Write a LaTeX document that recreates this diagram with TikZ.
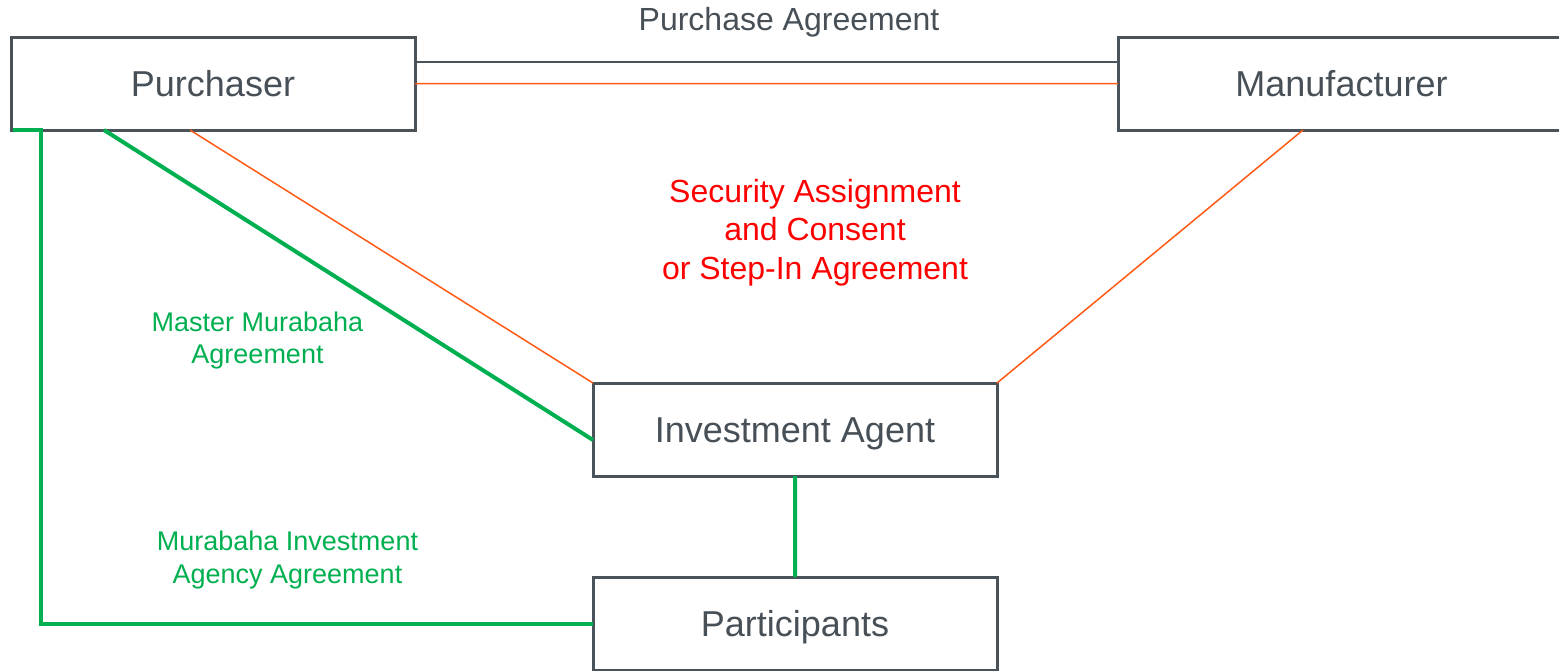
\documentclass[tikz,border=0pt]{standalone}
\usepackage{fontspec}
\setmainfont{Liberation Sans}
\usetikzlibrary{calc}

\definecolor{boxgray}{HTML}{4A525A}
\definecolor{txtgray}{HTML}{474F57}
\definecolor{mgreen}{HTML}{00B050}
\definecolor{lorange}{HTML}{FF5A14}

\tikzset{
	party/.style={draw=boxgray, line width=3pt, fill=white,
		minimum width=404pt, minimum height=93pt, inner sep=0pt, outer sep=0pt,
		text=txtgray, font=\fontsize{36}{40}\selectfont,
		text height=26pt, text depth=0pt},
	greenlink/.style={draw=mgreen, line width=4pt},
	orangelink/.style={draw=lorange, line width=1.5pt},
	graylink/.style={draw=boxgray, line width=2.5pt},
	greenlabel/.style={text=mgreen, align=center, font=\fontsize{27}{32}\selectfont}
}

\begin{document}
\begin{tikzpicture}[x=1pt, y=-1pt]
					\useasboundingbox (0,0) rectangle (1559,670);
					\clip (0,0) rectangle (1559,670);

					% links first, the boxes go over them
					\coordinate (buyerC) at (213,83.5);
					\coordinate (makerC) at (1341.5,83.5);
					\coordinate (agentC) at (795,429.5);
					\coordinate (partsC) at (795,623.5);

					\draw
						(buyerC) node[party] (buyer) {Purchaser}
						(makerC) node[party, minimum width=447pt] (maker) {Manufacturer}
						(agentC) node[party] (agent) {Investment Agent}
						(partsC) node[party] (parts) {Participants};

					\draw[graylink]
						([yshift=21.5pt]buyer.east) -- ([yshift=21.5pt]maker.west);
					\draw[orangelink]
						(buyer.east) -- (maker.west)
						([xshift=179pt]buyer.south west) -- (agent.north west)
						([xshift=185pt]maker.south west) -- (agent.north east);

					\draw[greenlink]
						([xshift=93pt]buyer.south west) -- ([yshift=-10.5pt]agent.west)
						(agent.south) -- (parts.north);
					\draw[greenlink]
						([xshift=2pt]buyer.south west) -- ++(28,0) |- (parts.west);

					\node[text=txtgray, anchor=base, font=\fontsize{32}{38}\selectfont] (pa) at (789,30) {Purchase Agreement};

					\node[text=red, align=center, font=\fontsize{32}{38.3}\selectfont] (sec) at (815,232.7)
						{Security Assignment\\and Consent\\or Step-In Agreement};

					\node[greenlabel] (mma) at (257.5,340.2) {Master Murabaha\\Agreement};
					\node[greenlabel, font=\fontsize{27}{33}\selectfont] (miaa) at (287.5,559.7) {Murabaha Investment\\Agency Agreement};
				\end{tikzpicture}
\end{document}
